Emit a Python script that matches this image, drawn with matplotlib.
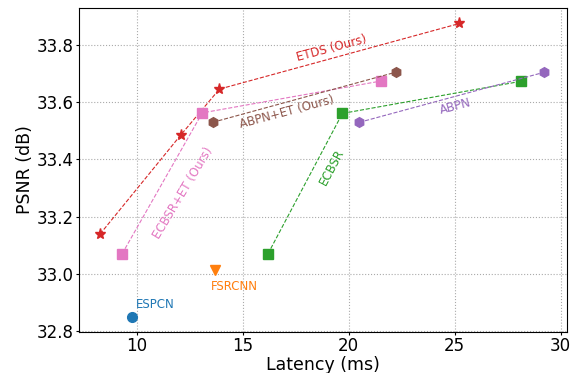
import matplotlib.pyplot as plt

# latency (ms) / PSNR (dB)
etds_lat = [8.27, 12.09, 13.9, 25.22]
etds_psnr = [33.139, 33.486, 33.645, 33.874]
ecbsr_et_lat = [9.31, 13.09, 21.51]
ecbsr_et_psnr = [33.07, 33.562, 33.673]
abpn_et_lat = [13.58, 22.22]
abpn_et_psnr = [33.529, 33.704]
ecbsr_lat = [16.19, 19.7, 28.11]
ecbsr_psnr = [33.07, 33.56, 33.672]
abpn_lat = [20.5, 29.23]
abpn_psnr = [33.529, 33.704]
fsrcnn_lat = [13.69]
fsrcnn_psnr = [33.014]
espcn_lat = [9.79]
espcn_psnr = [32.851]

fig = plt.figure(figsize=(5.76, 3.73), dpi=100)
ax = fig.add_axes([0.1366, 0.1107, 0.8472, 0.867])

ax.plot(etds_lat, etds_psnr, '--', color='tab:red', marker='*', markersize=8, lw=0.8)
ax.plot(ecbsr_et_lat, ecbsr_et_psnr, '--', color='tab:pink', marker='s', markersize=7, lw=0.8)
ax.plot(abpn_et_lat, abpn_et_psnr, '--', color='tab:brown', marker='h', markersize=7, lw=0.8)
ax.plot(ecbsr_lat, ecbsr_psnr, '--', color='tab:green', marker='s', markersize=7, lw=0.8)
ax.plot(abpn_lat, abpn_psnr, '--', color='tab:purple', marker='h', markersize=7, lw=0.8)
ax.plot(fsrcnn_lat, fsrcnn_psnr, color='tab:orange', marker='v', markersize=7, ls='none')
ax.plot(espcn_lat, espcn_psnr, color='tab:blue', marker='o', markersize=7, ls='none')

fs = 8.5
ax.text(19.17, 33.788, "ETDS (Ours)", color='tab:red', fontsize=fs, rotation=15, ha='center', va='center')
ax.text(17.09, 33.565, "ABPN+ET (Ours)", color='tab:brown', fontsize=fs, rotation=15, ha='center', va='center')
ax.text(12.2, 33.281, "ECBSR+ET (Ours)", color='tab:pink', fontsize=fs, rotation=59, ha='center', va='center')
ax.text(19.2, 33.374, "ECBSR", color='tab:green', fontsize=fs, rotation=62, ha='center', va='center')
ax.text(25.01, 33.583, "ABPN", color='tab:purple', fontsize=fs, rotation=15, ha='center', va='center')
ax.text(14.59, 32.955, "FSRCNN", color='tab:orange', fontsize=fs, ha='center', va='center')
ax.text(10.89, 32.894, "ESPCN", color='tab:blue', fontsize=fs, ha='center', va='center')

ax.set_xlim(7.26, 30.28)
ax.set_ylim(32.798, 33.927)
ax.set_xticks([10, 15, 20, 25, 30])
ax.set_yticks([32.8, 33.0, 33.2, 33.4, 33.6, 33.8])
ax.tick_params(labelsize=12, length=2, pad=1.5)
ax.set_xlabel("Latency (ms)", fontsize=12.5, labelpad=1)
ax.set_ylabel("PSNR (dB)", fontsize=12.5, labelpad=2)
ax.grid(True, ls=':', color='#aaaaaa', lw=0.8)

plt.savefig("out.png", dpi=100)
